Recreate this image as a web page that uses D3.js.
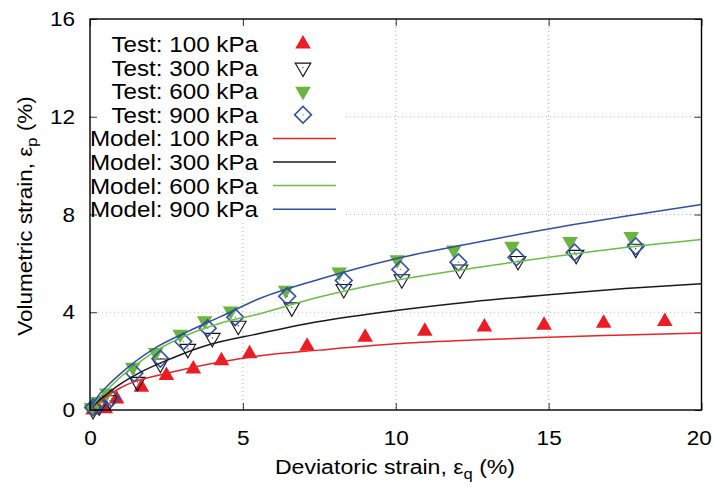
<!DOCTYPE html>
<html>
<head>
<meta charset="utf-8">
<script src="https://cdn.jsdelivr.net/npm/d3@7"></script>
<style>
  html, body { margin: 0; padding: 0; background: #fff; }
  svg { display: block; }
  text { font-family: "Liberation Sans", Arial, Helvetica, sans-serif; fill: #000; }
</style>
</head>
<body>
<svg id="chart" width="713" height="487"></svg>
<script>
// ---------- data ----------
const xTicks = [0, 5, 10, 15, 20];
const yTicks = [0, 4, 8, 12, 16];

// Test points
const test100X = [0.1, 0.5, 0.87, 1.68, 2.5, 3.38, 4.3, 5.22, 7.1, 9.0, 10.95, 12.9, 14.85, 16.8, 18.8];
const test100Y = [0.0, 0.05, 0.45, 0.93, 1.41, 1.68, 2.02, 2.3, 2.61, 2.98, 3.22, 3.4, 3.47, 3.55, 3.62];

const test300X = [0.1, 0.3, 0.65, 1.55, 2.3, 3.2, 4.0, 4.85, 6.6, 8.3, 10.2, 12.1, 14.0, 15.9, 17.85];
const test300Y = [0.0, 0.15, 0.4, 1.15, 1.9, 2.5, 2.95, 3.45, 4.2, 4.95, 5.35, 5.75, 6.1, 6.35, 6.6];

const test600X = [0.05, 0.25, 0.55, 1.4, 2.15, 2.95, 3.75, 4.6, 6.4, 8.15, 10.05, 11.9, 13.8, 15.7, 17.7];
const test600Y = [0.1, 0.35, 0.7, 1.75, 2.35, 3.1, 3.65, 4.05, 4.9, 5.65, 6.15, 6.55, 6.7, 6.9, 7.1];

const test900X = [0.1, 0.3, 0.7, 1.45, 2.3, 3.05, 3.85, 4.75, 6.45, 8.3, 10.15, 12.05, 13.95, 15.85, 17.85];
const test900Y = [0.1, 0.2, 0.48, 1.5, 2.1, 2.8, 3.35, 3.8, 4.65, 5.3, 5.75, 6.05, 6.25, 6.45, 6.7];

// Model curves
const model100X = [0, 0.25, 0.5, 1, 1.5, 2.1, 3.2, 4.3, 5.5, 7.5, 10, 12.5, 15, 17.5, 20];
const model100Y = [0, 0.3, 0.52, 0.91, 1.18, 1.38, 1.70, 1.97, 2.21, 2.45, 2.71, 2.86, 2.98, 3.07, 3.15];

const model300X = [0, 0.25, 0.5, 1, 1.57, 2.66, 3.75, 5.5, 7.5, 10, 12.5, 15, 17.5, 20];
const model300Y = [0, 0.35, 0.6, 1.07, 1.49, 2.11, 2.62, 3.12, 3.62, 4.07, 4.43, 4.72, 4.97, 5.17];

const model600X = [0, 0.25, 0.5, 1, 1.35, 2.11, 3.2, 4.29, 5.49, 7.5, 10, 12.5, 15, 17.5, 20];
const model600Y = [0, 0.45, 0.75, 1.35, 1.7, 2.39, 3.08, 3.56, 3.92, 4.62, 5.3, 5.8, 6.25, 6.65, 6.98];

const model900X = [0, 0.25, 0.5, 1, 2.11, 3.2, 4.29, 5.49, 7.5, 10, 12.5, 15, 17.5, 20];
const model900Y = [0, 0.55, 0.9, 1.49, 2.52, 3.21, 3.83, 4.53, 5.35, 6.19, 6.82, 7.41, 7.93, 8.41];

const legendLabels = ["Test: 100 kPa", "Test: 300 kPa", "Test: 600 kPa", "Test: 900 kPa",
                      "Model: 100 kPa", "Model: 300 kPa", "Model: 600 kPa", "Model: 900 kPa"];

const xTitle = "Deviatoric strain, ε";
const xTitleSub = "q";
const yTitle = "Volumetric strain, ε";
const yTitleSub = "p";

// ---------- styles ----------
const RED = "#ec1c24", BLACK = "#111111", GREEN = "#6ab43f", BLUE = "#2f50a6";
const zip = (xs, ys) => xs.map((v, i) => [v, ys[i]]);

const tests = [
  { pts: zip(test100X, test100Y), kind: "up",   fill: RED,   stroke: "none" },
  { pts: zip(test300X, test300Y), kind: "down", fill: "none", stroke: BLACK, dot: true },
  { pts: zip(test600X, test600Y), kind: "down", fill: GREEN, stroke: "none" },
  { pts: zip(test900X, test900Y), kind: "diamond", fill: "none", stroke: BLUE, dot: true }
];
const models = [
  { pts: zip(model100X, model100Y), color: "#e8232a" },
  { pts: zip(model300X, model300Y), color: "#1a1a1a" },
  { pts: zip(model600X, model600Y), color: "#6cbd45" },
  { pts: zip(model900X, model900Y), color: "#3150a2" }
];

// ---------- layout ----------
const svg = d3.select("#chart");
const L = 90, R = 701.5, T = 19, B = 410;
const x = d3.scaleLinear().domain([0, 20]).range([L, R]);
const y = d3.scaleLinear().domain([0, 16]).range([B, T]);

// grid
const grid = svg.append("g");
grid.selectAll(".gx").data(xTicks.slice(1, -1)).join("line")
  .attr("x1", d => x(d)).attr("x2", d => x(d)).attr("y1", T).attr("y2", B)
  .attr("stroke", "#b4b4b4").attr("stroke-width", 1).attr("stroke-dasharray", "1,3");
grid.selectAll(".gy").data(yTicks.slice(1, -1)).join("line")
  .attr("x1", L).attr("x2", R).attr("y1", d => y(d)).attr("y2", d => y(d))
  .attr("stroke", "#b4b4b4").attr("stroke-width", 1).attr("stroke-dasharray", "1,3");

// legend background (covers grid)
svg.append("rect").attr("x", 92).attr("y", 27).attr("width", 254).attr("height", 193).attr("fill", "#fff");

// symbols
const triSym = d3.symbol(d3.symbolTriangle, 105);
const sqSym = d3.symbol(d3.symbolSquare, 140);
function drawMarker(g, kind, fill, stroke, dot) {
  if (kind === "diamond") {
    g.append("path").attr("d", sqSym()).attr("transform", "rotate(45)")
      .attr("fill", fill).attr("stroke", stroke).attr("stroke-width", 1.6);
  } else {
    g.append("path").attr("d", triSym()).attr("transform", kind === "down" ? "rotate(180)" : null)
      .attr("fill", fill).attr("stroke", stroke).attr("stroke-width", 1.1);
  }
  if (dot) g.append("circle").attr("r", 0.6).attr("fill", stroke);
}

// test points
tests.forEach(s => {
  const g = svg.append("g");
  s.pts.forEach(p => {
    const m = g.append("g").attr("transform", `translate(${x(p[0])},${y(p[1])})`);
    drawMarker(m, s.kind, s.fill, s.stroke, s.dot);
  });
});

// model lines
const line = d3.line().x(d => x(d[0])).y(d => y(d[1])).curve(d3.curveMonotoneX);
models.forEach(m => {
  svg.append("path").attr("d", line(m.pts)).attr("fill", "none")
    .attr("stroke", m.color).attr("stroke-width", 1.5);
});

// axes (inward ticks on all four sides)
function styleAxis(g, keepText) {
  g.select(".domain").remove();
  g.selectAll(".tick line").attr("stroke", "#333").attr("stroke-width", 1);
  if (!keepText) g.selectAll("text").remove();
}
const axB = svg.append("g").attr("transform", `translate(0,${B})`)
  .call(d3.axisBottom(x).tickValues(xTicks).tickSize(-7).tickPadding(20));
styleAxis(axB, true);
axB.selectAll("text").attr("font-size", 20.5).attr("transform", "scale(1.1,1)")
  .attr("x", d => d === 20 ? -2.5 : 0);

const axL = svg.append("g").attr("transform", `translate(${L},0)`)
  .call(d3.axisLeft(y).tickValues(yTicks).tickSize(-7).tickPadding(13.6));
styleAxis(axL, true);
axL.selectAll("text").attr("font-size", 20.5).attr("transform", "scale(1.1,1)");

const axT = svg.append("g").attr("transform", `translate(0,${T})`)
  .call(d3.axisTop(x).tickValues(xTicks).tickSize(-7));
styleAxis(axT, false);
const axR = svg.append("g").attr("transform", `translate(${R},0)`)
  .call(d3.axisRight(y).tickValues(yTicks).tickSize(-7));
styleAxis(axR, false);

// frame
svg.append("rect").attr("x", L).attr("y", T).attr("width", R - L).attr("height", B - T)
  .attr("fill", "none").attr("stroke", "#000").attr("stroke-width", 1.4);

// legend
const legY0 = 44, legDy = 23.6;
legendLabels.forEach((lab, i) => {
  const cy = legY0 + i * legDy;
  svg.append("g").attr("transform", `translate(258,${cy}) scale(1.1,1)`)
    .append("text").attr("text-anchor", "end").attr("dy", "0.36em")
    .attr("font-size", 22).text(lab);
  if (i < 4) {
    const s = tests[i];
    const m = svg.append("g").attr("transform", `translate(303,${cy})`);
    drawMarker(m, s.kind, s.fill, s.stroke, s.dot);
  } else {
    svg.append("line").attr("x1", 273).attr("x2", 336).attr("y1", cy).attr("y2", cy)
      .attr("stroke", models[i - 4].color).attr("stroke-width", 1.5);
  }
});

// axis titles
const xt = svg.append("g").attr("transform", `translate(395,474) scale(1.1,1)`)
  .append("text").attr("text-anchor", "middle").attr("font-size", 21);
xt.append("tspan").text(xTitle);
xt.append("tspan").attr("font-size", 15).attr("dy", 5).text(xTitleSub);
xt.append("tspan").attr("dy", -5).text(" (%)");

const yt = svg.append("g").attr("transform", `translate(32,216) rotate(-90) scale(1.1,1)`)
  .append("text").attr("text-anchor", "middle").attr("font-size", 20.5);
yt.append("tspan").text(yTitle);
yt.append("tspan").attr("font-size", 15).attr("dy", 5).text(yTitleSub);
yt.append("tspan").attr("dy", -5).text(" (%)");
</script>
</body>
</html>
